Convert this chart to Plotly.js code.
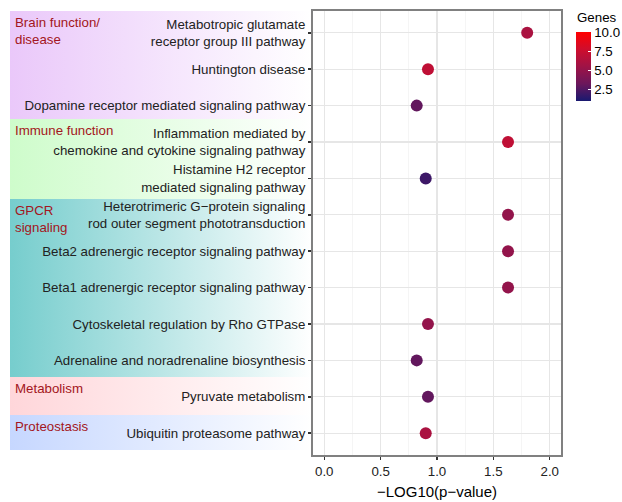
<!DOCTYPE html>
<html>
<head>
<meta charset="utf-8">
<script src="https://cdn.plot.ly/plotly-3.0.1.min.js"></script>
<style>html,body{margin:0;padding:0;background:#fff;}#chart{width:622px;height:502px;}</style>
</head>
<body>
<div id="chart"></div>
<script>
// ---- data ----
var terms = [
  "Metabotropic glutamate<br>receptor group III pathway",
  "Huntington disease",
  "Dopamine receptor mediated signaling pathway",
  "Inflammation mediated by<br>chemokine and cytokine signaling pathway",
  "Histamine H2 receptor<br>mediated signaling pathway",
  "Heterotrimeric G\u2212protein signaling<br>rod outer segment phototransduction",
  "Beta2 adrenergic receptor signaling pathway",
  "Beta1 adrenergic receptor signaling pathway",
  "Cytoskeletal regulation by Rho GTPase",
  "Adrenaline and noradrenaline biosynthesis",
  "Pyruvate metabolism",
  "Ubiquitin proteasome pathway"
];
var negLog10P = [1.80, 0.92, 0.82, 1.63, 0.90, 1.63, 1.63, 1.63, 0.92, 0.82, 0.92, 0.90];
var genes = [6, 7, 3, 7, 2, 5, 5, 5, 5, 3, 3, 6];
var groupNames = ["Brain function/<br>disease", "Immune function", "GPCR<br>signaling", "Metabolism", "Proteostasis"];
var xTicks = [0, 0.5, 1.0, 1.5, 2.0];
var xMinorTicks = [0.25, 0.75, 1.25, 1.75];
var colorTicks = [2.5, 5.0, 7.5, 10.0];
var colorTitle = "Genes";

// ---- layout helpers (pixel geometry) ----
var W = 622, H = 502;
var mL = 313, mR = 61, mT = 11, mB = 47;
var pw = W - mL - mR, ph = H - mT - mB;
function px2x(px) { return (px - mL) / pw; }
function py2y(py) { return 1 - (py - mT) / ph; }

var bandTops = [11, 119, 199, 377, 415];
var bandBottoms = [119, 199, 377, 415, 450];
var bandColors = ["#EAC8FA", "#CEFCCB", "#76CDCD", "#FFD6DA", "#C6D7FF"];
var bandLeft = 10, bandRight = 312;

function gradURI(col) {
  var svg = '<svg xmlns="http://www.w3.org/2000/svg" width="300" height="100" preserveAspectRatio="none" viewBox="0 0 300 100">' +
    '<defs><linearGradient id="g" x1="0" y1="0" x2="1" y2="0">' +
    '<stop offset="0" stop-color="' + col + '"/><stop offset="1" stop-color="#ffffff"/></linearGradient></defs>' +
    '<rect x="0" y="0" width="300" height="100" fill="url(#g)"/></svg>';
  return 'data:image/svg+xml;charset=utf-8,' + encodeURIComponent(svg);
}

var images = [], annotations = [];
for (var i = 0; i < groupNames.length; i++) {
  images.push({
    source: gradURI(bandColors[i]),
    xref: "paper", yref: "paper",
    x: px2x(bandLeft), y: py2y(bandTops[i]),
    sizex: (bandRight - bandLeft) / pw, sizey: (bandBottoms[i] - bandTops[i]) / ph,
    xanchor: "left", yanchor: "top", sizing: "stretch", layer: "below"
  });
  annotations.push({
    text: groupNames[i], xref: "paper", yref: "paper",
    x: px2x(13), y: py2y(bandTops[i] + 2),
    xanchor: "left", yanchor: "top", align: "left", showarrow: false,
    font: {family: "Liberation Sans, Arial, sans-serif", size: 13.3, color: "#A31621"}
  });
}
annotations.push({
  text: colorTitle, xref: "paper", yref: "paper",
  x: px2x(575), y: py2y(18), xanchor: "left", yanchor: "middle",
  showarrow: false, font: {family: "Liberation Sans, Arial, sans-serif", size: 13.3, color: "#000"}
});

var colorscale = [
  [0, "rgb(25,25,112)"],
  [0.25, "rgb(107,23,91)"],
  [0.5, "rgb(159,19,70)"],
  [0.75, "rgb(207,13,45)"],
  [1, "rgb(255,0,0)"]
];

var trace = {
  type: "scatter", mode: "markers",
  x: negLog10P, y: terms,
  marker: {
    size: 12, color: genes, colorscale: colorscale, cmin: 1, cmax: 10,
    line: {width: 0},
    showscale: true,
    colorbar: {
      thickness: 15, thicknessmode: "pixels",
      len: 69, lenmode: "pixels",
      x: px2x(576), xanchor: "left",
      y: py2y(32), yanchor: "top",
      xpad: 0, ypad: 0, outlinewidth: 0,
      tickvals: colorTicks, tickformat: ".1f",
      ticks: "inside", ticklen: 3, tickcolor: "#ffffff", tickwidth: 1,
      tickfont: {size: 13.3, color: "#000"}
    }
  },
  hoverinfo: "x+y"
};

var layout = {
  width: W, height: H,
  margin: {l: mL, r: mR, t: mT, b: mB, pad: 0, autoexpand: false},
  paper_bgcolor: "#ffffff", plot_bgcolor: "#ffffff",
  font: {family: "Liberation Sans, Arial, sans-serif", size: 13.3, color: "#222"},
  showlegend: false,
  xaxis: {
    range: [-0.1, 2.1], tickvals: xTicks, tickformat: ".1f",
    ticks: "outside", ticklen: 3, tickwidth: 1.5, tickcolor: "#333",
    showgrid: true, gridcolor: "#e6e6e6", gridwidth: 1.2,
    minor: {tickvals: xMinorTicks, showgrid: true, gridcolor: "#f2f2f2", gridwidth: 0.8, ticklen: 0},
    showline: true, mirror: true, linecolor: "#808080", linewidth: 2,
    zeroline: false,
    tickfont: {size: 13.3, color: "#222"},
    title: {text: "\u2212LOG10(p\u2212value)", font: {size: 15, color: "#000"}, standoff: 9},
    automargin: false
  },
  yaxis: {
    type: "category", categoryorder: "array", categoryarray: terms,
    range: [terms.length - 0.4, -0.6],
    ticks: "outside", ticklen: 3, tickwidth: 1.5, tickcolor: "#333",
    showgrid: true, gridcolor: "#e6e6e6", gridwidth: 1.2,
    showline: true, mirror: true, linecolor: "#808080", linewidth: 2,
    zeroline: false,
    tickfont: {size: 13.3, color: "#222"},
    automargin: false
  },
  images: images,
  annotations: annotations
};

Plotly.newPlot("chart", [trace], layout, {displayModeBar: false, staticPlot: true});
</script>
</body>
</html>
